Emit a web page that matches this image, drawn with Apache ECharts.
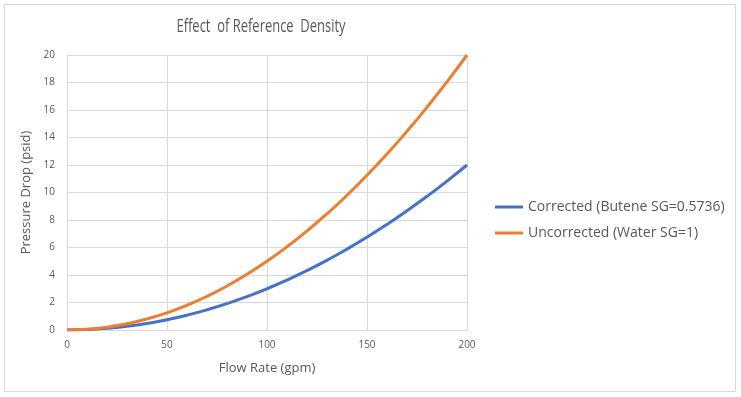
<!DOCTYPE html>
<html>
<head>
<meta charset="utf-8">
<script src="https://cdn.jsdelivr.net/npm/echarts@6/dist/echarts.min.js"></script>
<style>
  html, body { margin: 0; padding: 0; background: #fff; }
  #main { width: 741px; height: 397px; }
</style>
</head>
<body>
<div id="main"></div>
<script>
// 流量 (gpm)
var flow = [0, 10, 20, 30, 40, 50, 60, 70, 80, 90, 100, 110, 120, 130, 140, 150, 160, 170, 180, 190, 200];
// 修正后 (Butene SG=0.5736)
var corrected = [0, 0.03, 0.12, 0.27, 0.48, 0.75, 1.08, 1.47, 1.92, 2.43, 3.0, 3.63, 4.32, 5.07, 5.88, 6.75, 7.68, 8.67, 9.72, 10.83, 12.0];
// 未修正 (Water SG=1)
var uncorrected = [0, 0.05, 0.2, 0.45, 0.8, 1.25, 1.8, 2.45, 3.2, 4.05, 5.0, 6.05, 7.2, 8.45, 9.8, 11.25, 12.8, 14.45, 16.2, 18.05, 20.0];
var seriesNames = ['Corrected (Butene SG=0.5736)', 'Uncorrected (Water SG=1)'];
var chartTitle = 'Effect  of Reference  Density';

function pairs(ys) {
    return flow.map(function (x, i) { return [x, ys[i]]; });
}

var myChart = echarts.init(document.getElementById('main'));
var txt = '#595959';
var grid = '#d9d9d9';

myChart.setOption({
    backgroundColor: '#fff',
    animation: false,
    textStyle: { fontFamily: 'Open Sans', color: txt },
    graphic: [{
        type: 'rect',
        shape: { x: 4.5, y: 4.5, width: 731, height: 387 },
        style: { fill: 'none', stroke: '#d9d9d9', lineWidth: 1 },
        silent: true
    }, {
        // 标题 (窄字体效果)
        type: 'text',
        x: 261,
        y: 27,
        scaleX: 0.72,
        silent: true,
        style: {
            text: chartTitle,
            fontFamily: 'Open Sans',
            fontSize: 18,
            fill: txt,
            textAlign: 'center',
            textVerticalAlign: 'middle'
        }
    }],
    grid: { left: 67, top: 55, width: 400, height: 275, containLabel: false },
    legend: {
        orient: 'vertical',
        left: 490,
        top: 195,
        itemWidth: 28,
        itemHeight: 3,
        itemGap: 12,
        icon: 'rect',
        textStyle: { fontFamily: 'Open Sans', fontSize: 14, color: txt },
        data: seriesNames
    },
    xAxis: {
        type: 'value',
        min: 0, max: 200, interval: 50,
        name: 'Flow Rate (gpm)',
        nameLocation: 'middle',
        nameGap: 32,
        nameTextStyle: { fontSize: 13, color: txt },
        axisLine: { show: true, lineStyle: { color: grid } },
        axisTick: { show: false },
        axisLabel: { fontSize: 10, color: txt, margin: 10 },
        splitLine: { show: true, lineStyle: { color: grid } }
    },
    yAxis: {
        type: 'value',
        min: 0, max: 20, interval: 2,
        name: 'Pressure Drop (psid)',
        nameLocation: 'middle',
        nameGap: 27,
        nameTextStyle: { fontSize: 13, color: txt },
        axisLine: { show: true, lineStyle: { color: grid } },
        axisTick: { show: false },
        axisLabel: { fontSize: 10, color: txt, margin: 12 },
        splitLine: { show: true, lineStyle: { color: grid } }
    },
    series: [{
        name: seriesNames[0],
        type: 'line',
        smooth: true,
        showSymbol: false,
        data: pairs(corrected),
        itemStyle: { color: '#4472C4' },
        lineStyle: { color: '#4472C4', width: 3 }
    }, {
        name: seriesNames[1],
        type: 'line',
        smooth: true,
        showSymbol: false,
        data: pairs(uncorrected),
        itemStyle: { color: '#ED7D31' },
        lineStyle: { color: '#ED7D31', width: 3 }
    }]
});
</script>
</body>
</html>
